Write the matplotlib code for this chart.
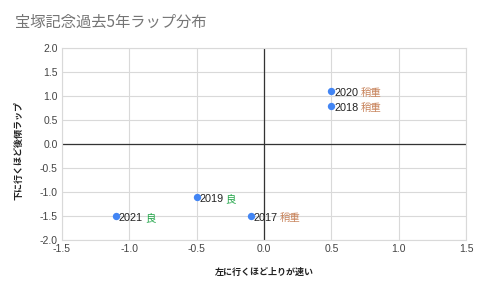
import matplotlib
matplotlib.use("Agg")
import matplotlib.pyplot as plt

plt.rcParams['font.family'] = ['Noto Sans CJK JP', 'DejaVu Sans']

years = ["2020", "2018", "2019", "2021", "2017"]
conditions = ["稍重", "稍重", "良", "良", "稍重"]
x_vals = [0.5, 0.5, -0.5, -1.1, -0.1]
y_vals = [1.1, 0.8, -1.1, -1.5, -1.5]
cond_colors = {"稍重": "#c8845c", "良": "#1ea446"}

title = "宝塚記念過去5年ラップ分布"
xlabel = "左に行くほど上りが速い"
ylabel = "下に行くほど後傾ラップ"
xticks = [-1.5, -1.0, -0.5, 0.0, 0.5, 1.0, 1.5]
yticks = [-2.0, -1.5, -1.0, -0.5, 0.0, 0.5, 1.0, 1.5, 2.0]

fig = plt.figure(figsize=(4.8, 2.97), dpi=100)
ax = fig.add_axes([0.129, 0.192, 0.842, 0.646])
ax.set_xlim(-1.5, 1.5)
ax.set_ylim(-2.0, 2.0)
ax.set_xticks(xticks)
ax.set_yticks(yticks)
ax.set_xticklabels([f"{v:.1f}" for v in xticks])
ax.set_yticklabels([f"{v:.1f}" for v in yticks])
ax.tick_params(length=0, labelsize=7.5, colors="#444444", pad=3)
for lab in ax.get_xticklabels() + ax.get_yticklabels():
    lab.set_family(['Liberation Sans'])
ax.grid(True, color="#d9d9d9", linewidth=0.8)
ax.set_axisbelow(True)
for s in ax.spines.values():
    s.set_color("#d9d9d9")
    s.set_linewidth(0.8)
ax.axhline(0, color="#333333", linewidth=0.9, zorder=1)
ax.axvline(0, color="#333333", linewidth=0.9, zorder=1)

ax.scatter(x_vals, y_vals, s=28, color="#4285f4", zorder=3, linewidths=0)
renderer = fig.canvas.get_renderer()
for yr, c, xv, yv in zip(years, conditions, x_vals, y_vals):
    t = ax.annotate(yr, (xv, yv), xytext=(2.0, -3.5), textcoords="offset points",
                    ha="left", va="baseline", fontsize=7.8, color="#222222",
                    family=['Liberation Sans'], zorder=4)
    w_pt = t.get_window_extent(renderer).width * 72.0 / fig.dpi
    ax.annotate(c, (xv, yv), xytext=(2.0 + w_pt + 1.5, -3.5), textcoords="offset points",
                ha="left", va="baseline", fontsize=7.5, color=cond_colors[c], zorder=4)

fig.text(15/480, 1 - 22/297, title, fontsize=11, color="#757575", ha="left", va="center")
fig.text(264/480, 1 - 272/297, xlabel, fontsize=6.5, color="#222222", ha="center", va="center", fontweight="bold")
fig.text(19/480, 1 - 150/297, ylabel, fontsize=6.5, color="#222222", ha="center", va="center", rotation=90, fontweight="bold")

fig.savefig("out.png", dpi=100)
